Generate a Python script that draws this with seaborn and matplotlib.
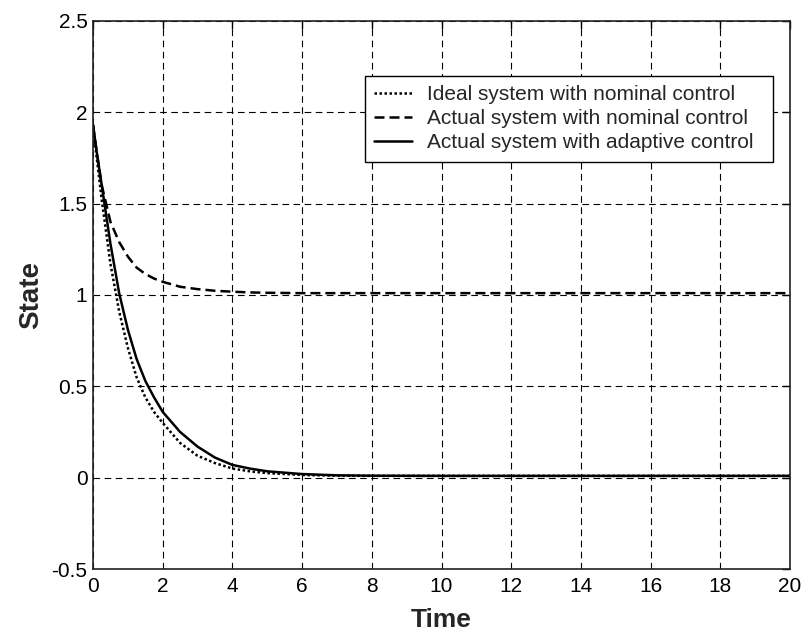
import numpy as np
import pandas as pd
import matplotlib
matplotlib.use("Agg")
import matplotlib.pyplot as plt
import seaborn as sns

# Sampled state trajectories
time = [0.0, 0.1, 0.25, 0.5, 0.75, 1.0, 1.25, 1.5, 1.75, 2.0, 2.5, 3.0, 3.5,
        4.0, 4.5, 5.0, 6.0, 7.0, 8.0, 10.0, 20.0]
ideal_nominal = [1.93, 1.76, 1.52, 1.17, 0.91, 0.71, 0.55, 0.44, 0.36, 0.30,
                 0.19, 0.12, 0.08, 0.05, 0.035, 0.025, 0.015, 0.011, 0.01,
                 0.01, 0.01]
actual_nominal = [1.93, 1.79, 1.60, 1.40, 1.29, 1.21, 1.15, 1.115, 1.09,
                  1.072, 1.045, 1.032, 1.023, 1.018, 1.014, 1.012, 1.01,
                  1.01, 1.01, 1.01, 1.01]
actual_adaptive = [1.93, 1.79, 1.60, 1.28, 1.01, 0.81, 0.65, 0.53, 0.44,
                   0.36, 0.25, 0.17, 0.11, 0.07, 0.05, 0.035, 0.02, 0.013,
                   0.011, 0.01, 0.01]

labels = ["Ideal system with nominal control",
          "Actual system with nominal control",
          "Actual system with adaptive control"]

df = pd.DataFrame({
    "Time": time * 3,
    "State": ideal_nominal + actual_nominal + actual_adaptive,
    "Case": [labels[0]] * len(time) + [labels[1]] * len(time)
            + [labels[2]] * len(time),
})

sns.set_style("white")
plt.rcParams["font.family"] = ["Liberation Sans", "DejaVu Sans"]

fig = plt.figure(figsize=(8.02, 6.33), dpi=100)
ax = fig.add_axes([0.116, 0.101, 0.869, 0.866])

styles = {labels[0]: (0, (1, 1)),
          labels[1]: (0, (4, 2)),
          labels[2]: "-"}
for lab in labels:
    sub = df[df["Case"] == lab]
    sns.lineplot(data=sub, x="Time", y="State", ax=ax, color="black",
                 linestyle=styles[lab], linewidth=1.8, label=lab,
                 estimator=None, sort=False)

ax.set_xlim(0, 20)
ax.set_ylim(-0.5, 2.5)
ax.set_xticks(np.arange(0, 21, 2))
ax.set_yticks(np.arange(-0.5, 2.51, 0.5))
ax.set_yticklabels(["-0.5", "0", "0.5", "1", "1.5", "2", "2.5"])
ax.grid(True, color="black", linestyle=(0, (6, 4)), linewidth=0.8)
ax.tick_params(direction="in", length=6, width=1, labelsize=15,
               top=True, right=True, colors="black")
ax.tick_params(axis="x", pad=6)
ax.tick_params(axis="y", pad=4)
for s in ax.spines.values():
    s.set_color("#222222")
    s.set_linewidth(1.2)

ax.set_xlabel("Time", fontsize=19, fontweight="bold", labelpad=8)
ax.set_ylabel("State", fontsize=20, fontweight="bold", labelpad=5)

leg = ax.legend(loc="upper left", bbox_to_anchor=(0.390, 0.9, 0.585, 0.0),
                mode="expand", fontsize=15,
                frameon=True, fancybox=False, edgecolor="black",
                framealpha=1, handlelength=1.8, borderpad=0.45,
                labelspacing=0.25, handletextpad=0.75, borderaxespad=0)
leg.get_frame().set_linewidth(1.0)

fig.savefig("out.png", dpi=100, facecolor="white")
